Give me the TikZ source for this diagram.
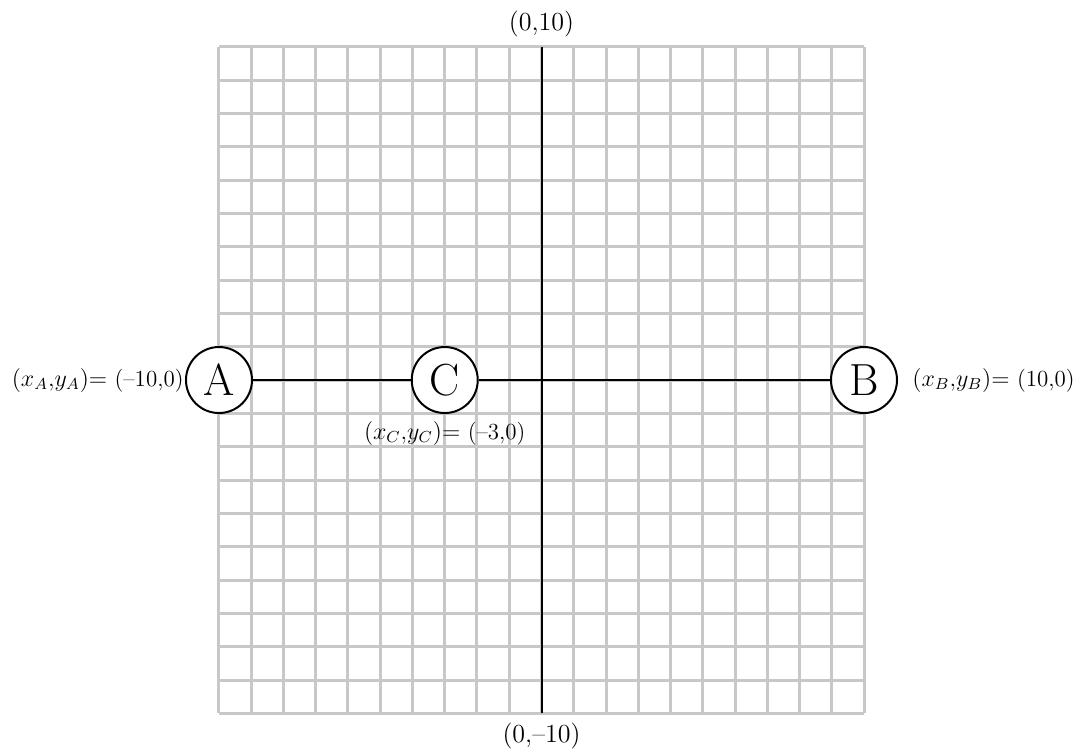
\documentclass[tikz,border=0pt]{standalone}
\usepackage{tikz}
\usepackage{amsmath}
\definecolor{gridgray}{RGB}{200,200,200}
\tikzset{
  gridline/.style={draw=gridgray,line width=1.5pt},
  axis/.style={draw=black,line width=1pt},
  point/.style={circle,draw=black,fill=white,line width=1pt,minimum size=33pt,inner sep=0pt,font=\fontsize{22.5}{27}\selectfont},
  ptlabel/.style={font=\fontsize{11.5}{14}\selectfont},
  axlabel/.style={font=\fontsize{13}{16}\selectfont}
}

\begin{document}
\begin{tikzpicture}[x=16.125pt,y=16.667pt]
	\useasboundingbox (-16.79,-11.07) rectangle (16.48,11.40);
	%GRID
	\draw[gridline,step={(1,1)}] (-10,-10) grid (10,10);
	%AXES
	\coordinate[label={[axlabel,yshift=1.5pt]above:(0,10)}](top) at (0,10);
	\coordinate[label={[axlabel,yshift=-1.5pt]below:(0,--10)}](bottom) at (0,-10);
	\draw[axis] (bottom) -- (top);
	%POINTS
	\node[point,label={[ptlabel,inner sep=0.5pt,label distance=0pt]left:$(x_A{,}y_A)\mathord{=}$ (--10,0)}] (A) at (-10,0) {A};
	\node[point,label={[ptlabel,label distance=0pt]below:$(x_C{,}y_C)\mathord{=}$ (--3,0)}] (C) at (-3,0) {C};
	\node[point,label={[ptlabel,label distance=3.7pt]right:$(x_B{,}y_B)\mathord{=}$ (10,0)}] (B) at (10,0) {B};
	\draw[axis] (A) -- (C) -- (B);
\end{tikzpicture}
\end{document}
